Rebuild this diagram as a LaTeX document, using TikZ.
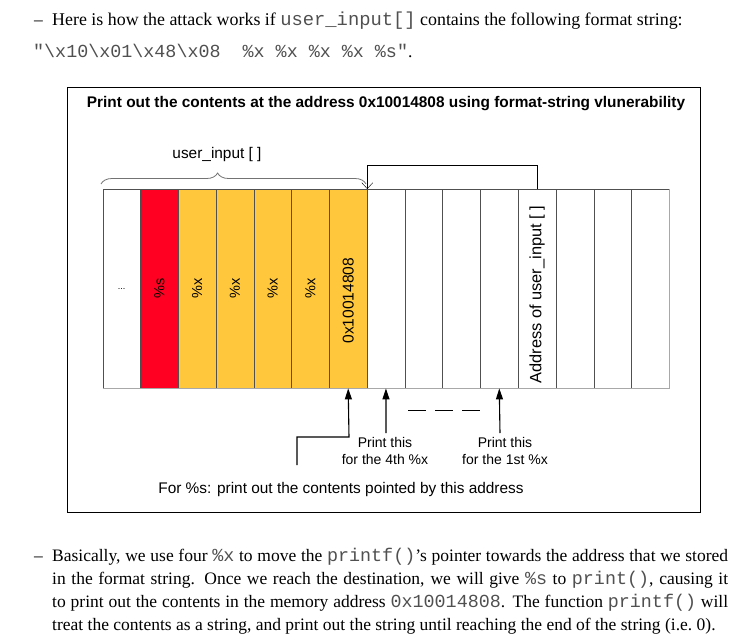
\documentclass[tikz,border=0pt]{standalone}
\usepackage{fontspec}
\setmainfont{Liberation Serif}
\setsansfont{Liberation Sans}
\setmonofont[Scale=1.05]{Liberation Mono}
\usetikzlibrary{arrows.meta,positioning,decorations.pathreplacing}
\definecolor{fsred}{HTML}{FF0022}
\definecolor{fsyel}{HTML}{FFC83C}
\definecolor{fsline}{HTML}{505050}
\definecolor{fsedge}{HTML}{A8A8A8}
\definecolor{fsmono}{HTML}{505050}
\newcommand{\code}[1]{{\ttfamily\color{fsmono}#1}}
\newcommand{\bodyfont}{\fontsize{17.5}{23}\selectfont}
\newcommand{\figfont}{\sffamily\fontsize{15.4}{17}\selectfont}
\newcommand{\notefont}{\sffamily\fontsize{14}{17}\selectfont}
\newcommand{\cellfont}{\sffamily\fontsize{14.5}{15}\selectfont}
\tikzset{
  cell/.style={draw=fsline,minimum width=37.77pt,minimum height=199pt,
               inner sep=0pt,anchor=north west},
  vlab/.style={rotate=90,font=\cellfont,inner sep=0pt},
  ptr/.style={-{Straight Barb[length=6pt,width=11pt]},thin,draw=black},
  fat/.style={-{Triangle[length=11pt,width=7pt]},line width=1.1pt,draw=black},
  note/.style={font=\notefont,align=center,inner sep=0pt},
  body/.style={font=\bodyfont,anchor=base west,inner sep=0pt},
}

\begin{document}
\begin{tikzpicture}[x=1pt,y=-1pt]
  \useasboundingbox (0,0) rectangle (740,641);

  % ---- text above the figure ----
  \node[body] (dashA) at (34,25) {--};
  \node[body,font=\fontsize{17.9}{23}\selectfont] (lineA) at (52,25)
    {Here is how the attack works if \code{user\_input[]} contains the following format string:};
  \node[body] (lineB) at (33,57)
    {\code{"\textbackslash x10\textbackslash x01\textbackslash x48\textbackslash x08\ \ \%x \%x \%x \%x \%s"}.};

  % ---- figure frame ----
  \draw[black,thin] (67,87) rectangle (700,512);
  \node[font=\figfont\bfseries] (title) at (386,104)
    {Print out the contents at the address 0x10014808 using format-string vlunerability};

  % ---- memory cells ----
  \foreach \i/\f in {1/white,2/fsred,3/fsyel,4/fsyel,5/fsyel,6/fsyel,7/fsyel,8/white,
                     9/white,10/white,11/white,12/white,13/white,14/white,15/white}
    \node[cell,fill=\f] (c\i) at ({102.5+(\i-1)*37.77},189) {};
  \draw[fsedge,line width=1.2pt] (c1.south west) -- (c15.south east) -- (c15.north east);

  \node[font=\sffamily\fontsize{9}{9}\selectfont] (dots) at (c1) {...};
  \node[vlab] (ls) at (c2) {\%s};
  \foreach \i in {3,...,6}
    \node[vlab] (lx\i) at (c\i) {\%x};
  \node[vlab,font=\sffamily\fontsize{15.6}{16}\selectfont] (laddr) at ([yshift=-12pt]c7.center) {0x10014808};
  \node[vlab,font=\sffamily\fontsize{16.4}{17}\selectfont] (luser) at ([yshift=-6pt]c12.center) {Address of user\_input [ ]};

  % ---- brace over user_input ----
  \draw[fsline!80,line width=0.8pt,decorate,decoration={brace,amplitude=11pt,aspect=0.44}]
    (101,184) -- (366,184);
  \node[font=\figfont] (uname) at (217,155) {user\_input [ ]};

  % ---- pointer back to the buffer ----
  \draw[ptr] (c12.north) -- ++(0,-24) -| (c7.north east);

  % ---- arrows below the cells ----
  \coordinate (s0) at (297,465);
  \coordinate (p4) at (386,433);
  \coordinate (p1) at (500,433);
  \draw[fat] (s0) |- (349,437) -- (c7.south);
  \draw[fat] (p4) -- (c8.south);
  \draw[fat] (p1) -- (c11.south);
  \draw[black,line width=1pt,dash pattern=on 18pt off 9pt] (408,410) -- (480,410);

  \node[note,anchor=north] (t4) at (385,437) {Print this\\for the 4th \%x};
  \node[note,anchor=north] (t1) at (505,437) {Print this\\for the 1st \%x};
  \node[font=\figfont] (forS) at (341,490) {For \%s: print out the contents pointed by this address};

  % ---- text below the figure ----
  \node[body] (dashB) at (34,561) {--};
  \node[body] (para) at (52,561) {\parbox[t]{676pt}{\bodyfont
    Basically, we use four \code{\%x} to move the \code{printf()}'s pointer towards the address that we stored\linebreak
    in the format string.  Once we reach the destination, we will give \code{\%s} to \code{print()}, causing it\linebreak
    to print out the contents in the memory address \code{0x10014808}. The function \code{printf()} will\linebreak
    treat the contents as a string, and print out the string until reaching the end of the string (i.e.~0).}};
\end{tikzpicture}
\end{document}
